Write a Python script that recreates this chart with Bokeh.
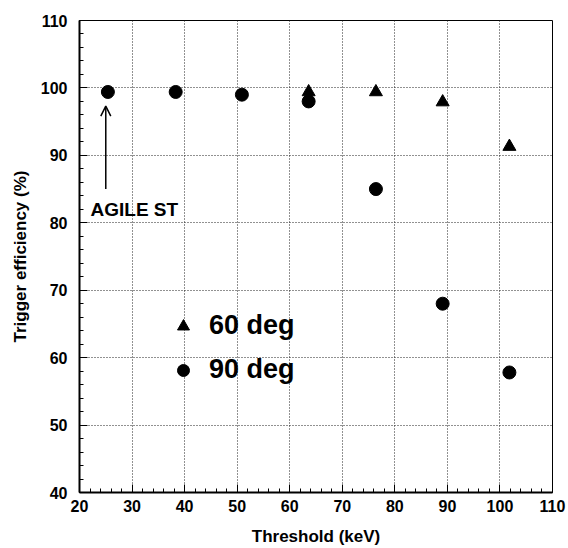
from bokeh.plotting import figure
from bokeh.models import (Range1d, SingleIntervalTicker, Legend, LegendItem,
                          Label, Arrow, OpenHead)
from bokeh.embed import file_html
from bokeh.resources import INLINE

# ---- data ----
thr_60deg = [63.6, 76.4, 89.1, 101.8]
eff_60deg = [99.4, 99.4, 97.9, 91.3]
thr_90deg = [25.4, 38.3, 50.9, 63.6, 76.4, 89.1, 101.8]
eff_90deg = [99.4, 99.4, 99.0, 98.0, 85.0, 68.0, 57.8]
series_labels = ["60 deg", "90 deg"]
annotation_text = "AGILE ST"
x_title = "Threshold (keV)"
y_title = "Trigger efficiency (%)"

FONT = "Liberation Sans"

p = figure(width=568, height=548, output_backend="svg", toolbar_location=None,
           x_range=Range1d(20, 110), y_range=Range1d(40, 110),
           min_border_left=79, min_border_right=16, min_border_top=20,
           min_border_bottom=56)

p.background_fill_color = "white"
p.border_fill_color = "white"
p.outline_line_color = "black"
p.outline_line_width = 1

for ax in (p.xaxis, p.yaxis):
    ax.ticker = SingleIntervalTicker(interval=10, num_minor_ticks=5)
    ax.axis_line_width = 2
    ax.axis_line_color = "black"
    ax.major_tick_in = 8
    ax.major_tick_out = 0
    ax.minor_tick_in = 4
    ax.minor_tick_out = 0
    ax.major_tick_line_width = 1
    ax.minor_tick_line_width = 1
    ax.major_label_text_font = FONT
    ax.major_label_text_font_style = "bold"
    ax.major_label_text_font_size = "16px"
    ax.major_label_text_color = "black"
    ax.axis_label_text_font = FONT
    ax.axis_label_text_font_style = "bold"
    ax.axis_label_text_font_size = "17px"
    ax.axis_label_text_color = "black"

p.xaxis.axis_label = x_title
p.yaxis.axis_label = y_title
p.xaxis.major_label_standoff = 7
p.xaxis.axis_label_standoff = 12
p.yaxis.major_label_standoff = 12
p.yaxis.axis_label_standoff = 8

for g in (p.xgrid, p.ygrid):
    g.ticker = SingleIntervalTicker(interval=10)
    g.grid_line_color = "#222222"
    g.grid_line_dash = "1 2"
    g.grid_line_width = 1

tri = p.scatter(thr_60deg, eff_60deg, marker="triangle", size=13,
                fill_color="black", line_color="black")
circ = p.scatter(thr_90deg, eff_90deg, marker="circle", size=13,
                 fill_color="black", line_color="black")

legend = Legend(items=[LegendItem(label=series_labels[0], renderers=[tri]),
                       LegendItem(label=series_labels[1], renderers=[circ])],
                location=(89, 107), padding=0, margin=0, spacing=13,
                glyph_width=30, glyph_height=30, label_standoff=11,
                border_line_color=None, background_fill_alpha=0,
                label_text_font=FONT, label_text_font_style="bold",
                label_text_font_size="27px", label_text_color="black")
p.add_layout(legend, "center")

p.add_layout(Label(x=22.1, y=82.0, text=annotation_text, text_font=FONT,
                   text_font_style="bold", text_font_size="19px",
                   text_color="black", text_baseline="alphabetic"))
p.add_layout(Arrow(end=OpenHead(size=10, line_width=1.5, line_color="black"),
                   x_start=25.0, y_start=85.0, x_end=25.0, y_end=97.3,
                   line_width=1.5, line_color="black"))

open("out.html", "w").write(file_html(p, INLINE))
